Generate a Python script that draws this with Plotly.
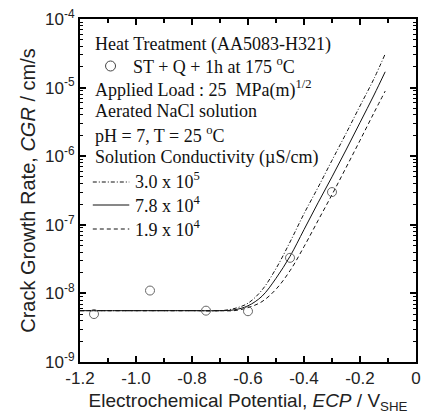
import plotly.graph_objects as go

# Measured crack growth rates (ST + Q + 1h at 175 C)
ecp_data = [-1.15, -0.95, -0.75, -0.60, -0.45, -0.30]
cgr_data = [5.0e-9, 1.1e-8, 5.6e-9, 5.5e-9, 3.3e-8, 3.0e-7]

# Model curves for three solution conductivities
ecp_fit = [-1.2, -1.0, -0.8, -0.70, -0.65, -0.60, -0.55, -0.50,
           -0.45, -0.40, -0.35, -0.30, -0.25, -0.20, -0.15, -0.11]
cgr_3_0e5 = [5.6e-9, 5.6e-9, 5.6e-9, 5.6e-9, 6.0e-9, 7.2e-9, 1.12e-8, 2.3e-8,
             5.6e-8, 1.45e-7, 3.5e-7, 8.7e-7, 2.14e-6, 5.4e-6, 1.35e-5, 3.1e-5]
cgr_7_8e4 = [5.6e-9, 5.6e-9, 5.6e-9, 5.6e-9, 5.75e-9, 6.6e-9, 9.1e-9, 1.66e-8,
             3.47e-8, 8.5e-8, 2.09e-7, 5.0e-7, 1.23e-6, 3.09e-6, 7.8e-6, 1.7e-5]
cgr_1_9e4 = [5.6e-9, 5.6e-9, 5.6e-9, 5.6e-9, 5.6e-9, 6.2e-9, 7.6e-9, 1.15e-8,
             2.14e-8, 4.8e-8, 1.15e-7, 2.75e-7, 6.8e-7, 1.7e-6, 4.3e-6, 8.9e-6]

x_tickvals = [-1.2, -1.0, -0.8, -0.6, -0.4, -0.2, 0.0]
x_ticktext = ["-1.2", "-1.0", "-0.8", "-0.6", "-0.4", "-0.2", "0"]
x_minorvals = [-1.1, -0.9, -0.7, -0.5, -0.3, -0.1]
y_tickvals = [1e-9, 1e-8, 1e-7, 1e-6, 1e-5, 1e-4]
y_ticktext = ["10<sup>-9</sup>", "10<sup>-8</sup>", "10<sup>-7</sup>",
              "10<sup>-6</sup>", "10<sup>-5</sup>", "10<sup>-4</sup>"]
y_minorvals = [m * 10.0 ** e for e in range(-9, -4) for m in range(2, 10)]

LINE = "#111111"
W, H = 425, 419
L, R, T, B = 80, 4, 19, 57
PW, PH = W - L - R, H - T - B


def px(x):
    return (x - L) / PW


def py(y):
    return (H - B - y) / PH


fig = go.Figure()
for vals, dash in [(cgr_3_0e5, "4px,2px,1px,2px"),
                   (cgr_7_8e4, "solid"),
                   (cgr_1_9e4, "4px,3px")]:
    fig.add_trace(go.Scatter(x=ecp_fit, y=vals, mode="lines",
                             line=dict(color=LINE, width=1, dash=dash, shape="spline"),
                             showlegend=False))

fig.add_trace(go.Scatter(x=ecp_data, y=cgr_data, mode="markers",
                         marker=dict(symbol="circle-open", size=9,
                                     color="#666666", line=dict(width=1)),
                         showlegend=False))

serif = dict(family="Liberation Serif, Times New Roman, serif", size=18, color="#111111")
text_lines = [
    (93, 44, "Heat Treatment (AA5083-H321)"),
    (132, 66, "ST + Q + 1h at 175 <sup>o</sup>C"),
    (93, 89, "Applied Load : 25  MPa(m)<sup>1/2</sup>"),
    (93, 111, "Aerated NaCl solution"),
    (93, 134, "pH = 7, T = 25 <sup>o</sup>C"),
    (93, 157, "Solution Conductivity (\u00b5S/cm)"),
    (134, 180, "3.0 x 10<sup>5</sup>"),
    (134, 204, "7.8 x 10<sup>4</sup>"),
    (134, 228, "1.9 x 10<sup>4</sup>"),
]
for x0, y0, txt in text_lines:
    fig.add_annotation(x=px(x0), y=py(y0), xref="paper", yref="paper",
                       text=txt, showarrow=False, xanchor="left", yanchor="middle",
                       font=serif)

# legend keys
for y0, dash in [(182, "4px,2px,1px,2px"), (205, "solid"), (229, "4px,3px")]:
    fig.add_shape(type="line", xref="paper", yref="paper",
                  x0=px(93), x1=px(130), y0=py(y0), y1=py(y0),
                  line=dict(color=LINE, width=1, dash=dash))
fig.add_shape(type="circle", xref="paper", yref="paper",
              xsizemode="pixel", ysizemode="pixel",
              xanchor=px(111), yanchor=py(66),
              x0=-5, x1=5, y0=-5, y1=5,
              line=dict(color="#444444", width=1))

sans = "Liberation Sans, Arial, sans-serif"
fig.update_xaxes(range=[-1.2, 0.0], tickmode="array", tickvals=x_tickvals,
                 ticktext=x_ticktext, ticks="inside", ticklen=6, tickwidth=1.5,
                 tickcolor="black", showline=True, linewidth=2, linecolor="black",
                 mirror="allticks", showgrid=False, zeroline=False,
                 minor=dict(tickmode="array", tickvals=x_minorvals, ticks="inside",
                            ticklen=4, tickwidth=1.5, tickcolor="black", showgrid=False),
                 tickfont=dict(family=sans, size=17, color="#222"),
                 title=dict(text="Electrochemical Potential, <i>ECP</i> / V<sub>SHE</sub>",
                            font=dict(family=sans, size=19, color="#222"), standoff=6))
fig.update_yaxes(type="log", range=[-9, -4], tickmode="array", tickvals=y_tickvals,
                 ticktext=y_ticktext, ticks="inside", ticklen=6, tickwidth=1.5,
                 tickcolor="black", showline=True, linewidth=2, linecolor="black",
                 mirror="allticks", showgrid=False, zeroline=False,
                 minor=dict(tickmode="array", tickvals=y_minorvals, ticks="inside",
                            ticklen=3, tickwidth=1, tickcolor="black", showgrid=False),
                 tickfont=dict(family=sans, size=17, color="#222"),
                 title=dict(text="Crack Growth Rate, <i>CGR</i> / cm/s",
                            font=dict(family=sans, size=20, color="#222"), standoff=4))

fig.update_layout(width=W, height=H, margin=dict(l=L, r=R, t=T, b=B),
                  plot_bgcolor="white", paper_bgcolor="white")

fig.write_html("out.html")
